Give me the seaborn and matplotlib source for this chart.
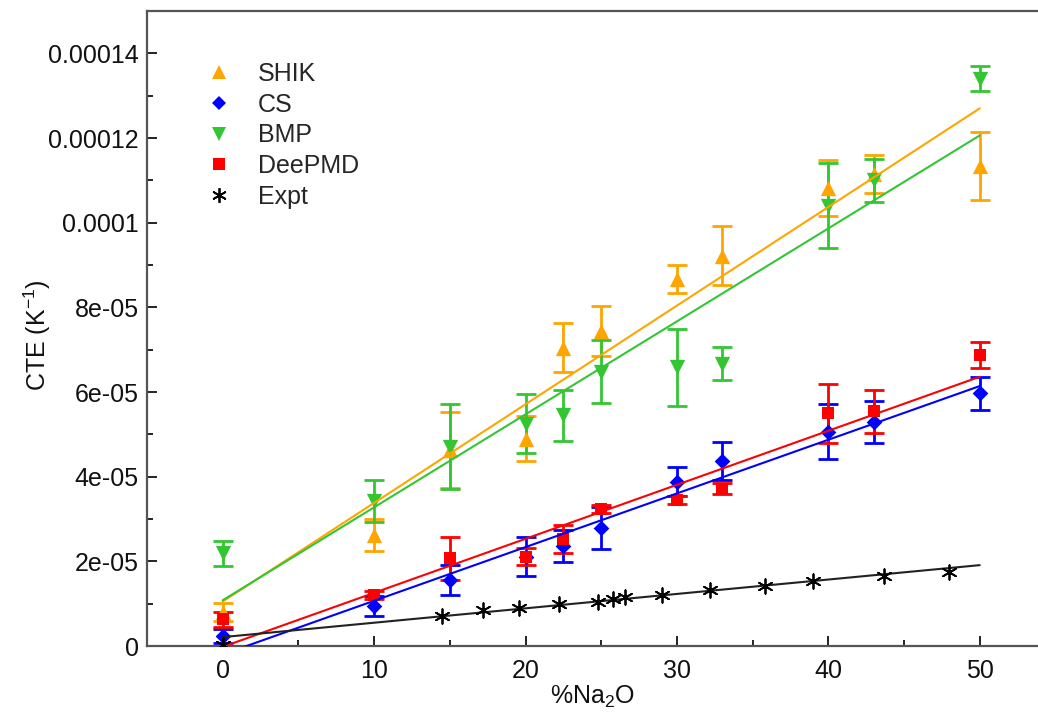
import numpy as np
import pandas as pd
import matplotlib
matplotlib.use("Agg")
import matplotlib.pyplot as plt
from matplotlib.lines import Line2D
from matplotlib.ticker import FuncFormatter, MultipleLocator
import seaborn as sns

# Composition (% Na2O) of the simulated glasses
x_sim = [0, 10, 15, 20, 22.5, 25, 30, 33, 40, 43, 50]

# Coefficient of thermal expansion (1/K) and its uncertainty per potential
shik = [8.0e-6, 2.62e-5, 4.63e-5, 4.9e-5, 7.05e-5, 7.44e-5, 8.67e-5, 9.22e-5, 1.081e-4, 1.114e-4, 1.133e-4]
shik_err = [2.2e-6, 3.7e-6, 8.9e-6, 5.3e-6, 5.7e-6, 5.9e-6, 3.4e-6, 7.0e-6, 6.6e-6, 4.5e-6, 8.0e-6]

cs = [2.3e-6, 9.4e-6, 1.56e-5, 2.11e-5, 2.36e-5, 2.78e-5, 3.88e-5, 4.37e-5, 5.06e-5, 5.29e-5, 5.97e-5]
cs_err = [1.6e-6, 2.3e-6, 3.6e-6, 4.6e-6, 3.8e-6, 5.0e-6, 3.4e-6, 4.5e-6, 6.5e-6, 5.0e-6, 3.9e-6]

bmp = [2.19e-5, 3.42e-5, 4.71e-5, 5.25e-5, 5.45e-5, 6.48e-5, 6.58e-5, 6.67e-5, 1.04e-4, 1.10e-4, 1.34e-4]
bmp_err = [3.0e-6, 5.0e-6, 1.0e-5, 7.0e-6, 6.0e-6, 7.4e-6, 9.2e-6, 3.9e-6, 1.0e-5, 5.0e-6, 3.0e-6]

deepmd = [6.3e-6, 1.2e-5, 2.07e-5, 2.11e-5, 2.52e-5, 3.23e-5, 3.45e-5, 3.71e-5, 5.5e-5, 5.54e-5, 6.87e-5]
deepmd_err = [1.8e-6, 1.0e-6, 5.0e-6, 2.0e-6, 3.3e-6, 1.0e-6, 1.0e-6, 1.3e-6, 7.0e-6, 5.0e-6, 3.0e-6]

# Experimental data
x_expt = [0, 14.5, 17.2, 19.6, 22.2, 24.8, 25.8, 26.6, 29.0, 32.2, 35.8, 39.0, 43.7, 48.0]
expt = [2.0e-7, 7.1e-6, 8.5e-6, 8.9e-6, 9.9e-6, 1.05e-5, 1.10e-5, 1.16e-5, 1.20e-5,
        1.32e-5, 1.42e-5, 1.54e-5, 1.65e-5, 1.75e-5]

# Linear fits: value at 0 % and at 50 % Na2O
fit_x = [0, 50]
fit_shik = [1.05e-5, 1.27e-4]
fit_cs = [-2.0e-6, 6.14e-5]
fit_bmp = [1.08e-5, 1.206e-4]
fit_deepmd = [-2.0e-7, 6.36e-5]
fit_expt = [2.1e-6, 1.91e-5]

sns.set_theme(style="ticks")
plt.rcParams["font.family"] = ["Liberation Sans", "DejaVu Sans"]
plt.rcParams["mathtext.fontset"] = "custom"
plt.rcParams["mathtext.rm"] = "Liberation Sans"
plt.rcParams["mathtext.it"] = "Liberation Sans:italic"

FS = 18

fig = plt.figure(figsize=(10.38, 7.13), dpi=100)
ax = fig.add_axes([147 / 1038, 67 / 713, 1 - 147 / 1038, 635 / 713])

c_orange = "#FFA500"
c_blue = "#0000FF"
c_green = "#33C633"
c_red = "#FF0000"

series = [
    ("SHIK", shik, shik_err, fit_shik, c_orange, "^", 11),
    ("CS", cs, cs_err, fit_cs, c_blue, "D", 8),
    ("BMP", bmp, bmp_err, fit_bmp, c_green, "v", 11),
    ("DeePMD", deepmd, deepmd_err, fit_deepmd, c_red, "s", 9),
]

handles = []
for name, vals, errs, fit, col, mk, ms in series:
    df = pd.DataFrame({"x": x_sim, "y": vals})
    ax.errorbar(x_sim, vals, yerr=errs, fmt="none", ecolor=col,
                elinewidth=2, capsize=7, capthick=2, zorder=2)
    sns.scatterplot(data=df, x="x", y="y", marker=mk, s=ms ** 2, color=col,
                    edgecolor=col, linewidth=0, ax=ax, zorder=3, legend=False)
    fdf = pd.DataFrame({"x": fit_x, "y": fit})
    sns.lineplot(data=fdf, x="x", y="y", color=col, linewidth=1.5, ax=ax,
                 zorder=4, legend=False)
    handles.append(Line2D([], [], linestyle="none", marker=mk, markersize=ms * 0.95,
                          color=col, markeredgewidth=0, label=name))

# Experimental points and fit
edf = pd.DataFrame({"x": x_expt, "y": expt})
sns.scatterplot(data=edf, x="x", y="y", marker=(6, 2, 0), s=110, color="black",
                edgecolor="black", linewidth=1.3, ax=ax, zorder=5, legend=False)
sns.lineplot(data=pd.DataFrame({"x": fit_x, "y": fit_expt}), x="x", y="y",
             color="#222222", linewidth=1.5, ax=ax, zorder=4, legend=False)
handles.append(Line2D([], [], linestyle="none", marker=(6, 2, 0), markersize=10.5,
                      color="black", markeredgewidth=1.3, label="Expt"))

ax.set_xlim(-5, 53.85)
ax.set_ylim(0, 1.5e-4)
ax.xaxis.set_major_locator(MultipleLocator(10))
ax.xaxis.set_minor_locator(MultipleLocator(5))
ax.yaxis.set_major_locator(MultipleLocator(2e-5))
ax.yaxis.set_minor_locator(MultipleLocator(1e-5))
ax.yaxis.set_major_formatter(FuncFormatter(lambda v, p: "0" if abs(v) < 1e-12 else f"{v:g}"))

ax.tick_params(axis="both", which="both", direction="in", colors="#111111",
               labelsize=FS, top=False, right=False)
ax.tick_params(axis="both", which="major", length=7, width=1.3)
ax.tick_params(axis="both", which="minor", length=4, width=1.3)
ax.tick_params(axis="x", which="major", pad=9)
ax.tick_params(axis="y", which="major", pad=6)

for side in ["left", "bottom", "top"]:
    ax.spines[side].set_color("#555555")
    ax.spines[side].set_linewidth(1.6)
ax.spines["right"].set_visible(False)

ax.set_xlabel("%Na$_2$O", fontsize=FS, labelpad=1, color="#111111")
ax.set_ylabel("CTE (K$^{-1}$)", fontsize=18, color="#111111")
ax.yaxis.set_label_coords(-0.106, 0.49)

ax.legend(handles=handles, loc="upper left", bbox_to_anchor=(0.064, 0.92),
          frameon=False, fontsize=FS, handletextpad=0.95, labelspacing=0.27,
          borderaxespad=0, handlelength=1.2, borderpad=0)

fig.savefig("out.png", dpi=100)
